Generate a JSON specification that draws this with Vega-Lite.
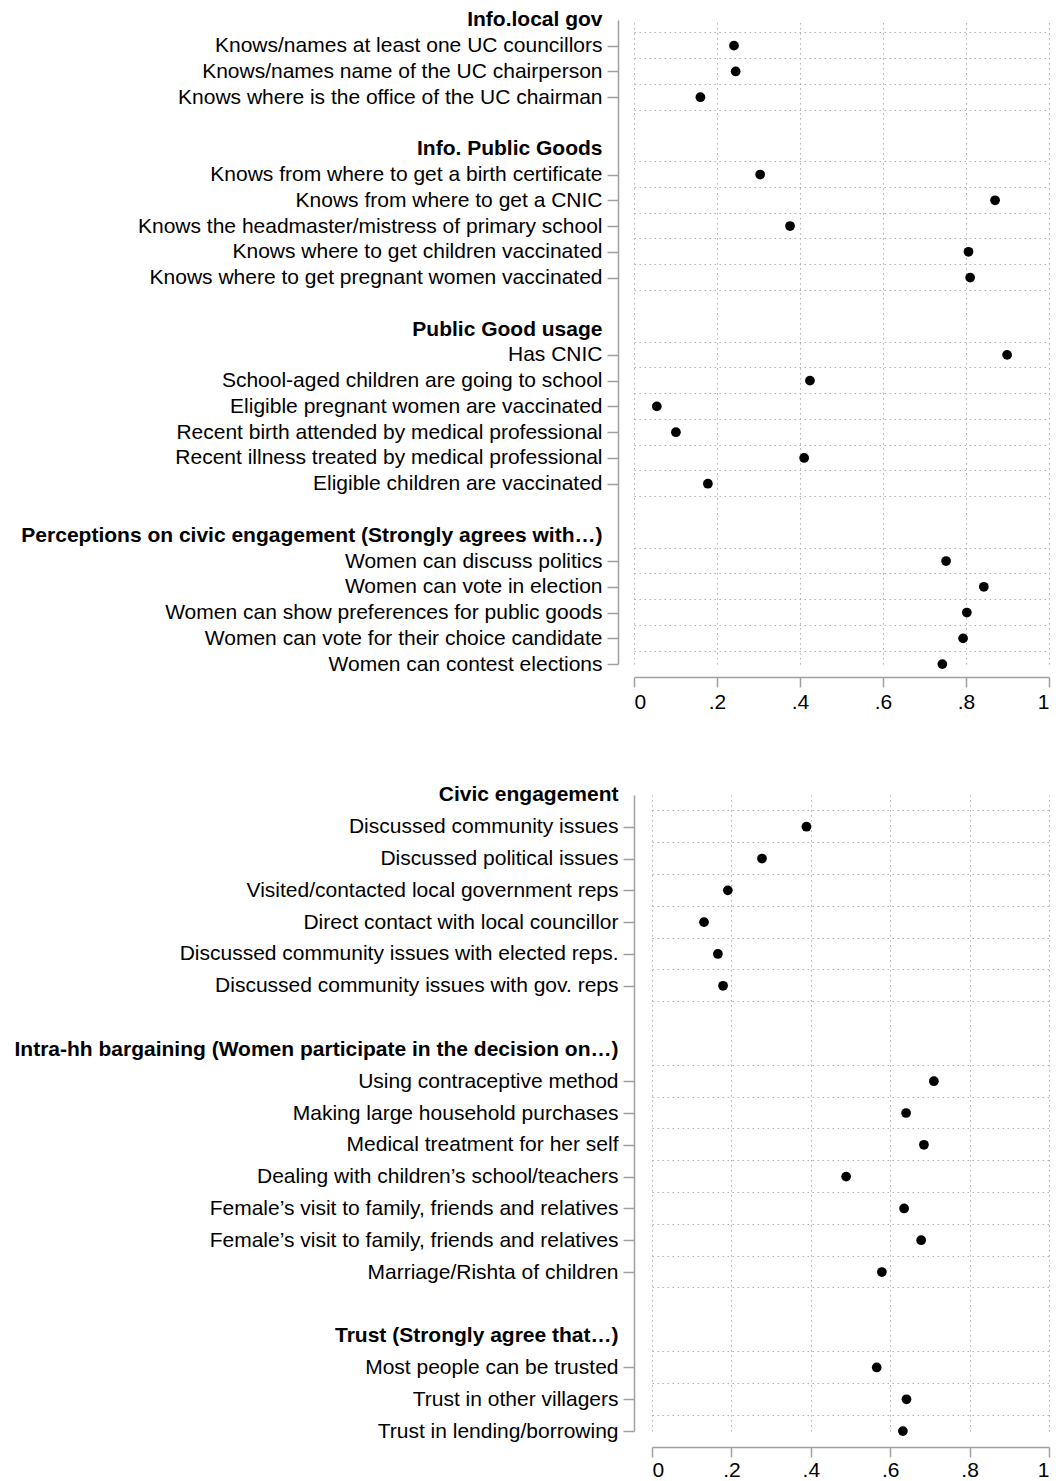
{
  "$schema": "https://vega.github.io/schema/vega-lite/v6.json",
  "padding": {"left": 0, "top": 7, "right": 0, "bottom": 0},
  "background": "white",
  "config": {
    "view": {"stroke": null},
    "font": "Liberation Sans",
    "axis": {"labelFont": "Liberation Sans", "labelColor": "black", "titleFont": "Liberation Sans"}
  },
  "datasets": {
    "top": [
      {"group": "Info.local gov", "label": "Knows/names at least one UC councillors", "value": 0.241},
      {"group": "Info.local gov", "label": "Knows/names name of the UC chairperson", "value": 0.245},
      {"group": "Info.local gov", "label": "Knows where is the office of the UC chairman", "value": 0.160},
      {"group": "Info. Public Goods", "label": "Knows from where to get a birth certificate", "value": 0.304},
      {"group": "Info. Public Goods", "label": "Knows from where to get a CNIC", "value": 0.870},
      {"group": "Info. Public Goods", "label": "Knows the headmaster/mistress of primary school", "value": 0.376},
      {"group": "Info. Public Goods", "label": "Knows where to get children vaccinated", "value": 0.806},
      {"group": "Info. Public Goods", "label": "Knows where to get pregnant women vaccinated", "value": 0.810},
      {"group": "Public Good usage", "label": "Has CNIC", "value": 0.899},
      {"group": "Public Good usage", "label": "School-aged children are going to school", "value": 0.424},
      {"group": "Public Good usage", "label": "Eligible pregnant women are vaccinated", "value": 0.055},
      {"group": "Public Good usage", "label": "Recent birth attended by medical professional", "value": 0.101},
      {"group": "Public Good usage", "label": "Recent illness treated by medical professional", "value": 0.410},
      {"group": "Public Good usage", "label": "Eligible children are vaccinated", "value": 0.178},
      {"group": "Perceptions on civic engagement (Strongly agrees with…)", "label": "Women can discuss politics", "value": 0.752},
      {"group": "Perceptions on civic engagement (Strongly agrees with…)", "label": "Women can vote in election", "value": 0.843},
      {"group": "Perceptions on civic engagement (Strongly agrees with…)", "label": "Women can show preferences for public goods", "value": 0.802},
      {"group": "Perceptions on civic engagement (Strongly agrees with…)", "label": "Women can vote for their choice candidate", "value": 0.793},
      {"group": "Perceptions on civic engagement (Strongly agrees with…)", "label": "Women can contest elections", "value": 0.743}
    ],
    "bottom": [
      {"group": "Civic engagement", "label": "Discussed community issues", "value": 0.389},
      {"group": "Civic engagement", "label": "Discussed political issues", "value": 0.277},
      {"group": "Civic engagement", "label": "Visited/contacted local government reps", "value": 0.191},
      {"group": "Civic engagement", "label": "Direct contact with local councillor", "value": 0.131},
      {"group": "Civic engagement", "label": "Discussed community issues with elected reps.\u00a0", "value": 0.166},
      {"group": "Civic engagement", "label": "Discussed community issues with gov. reps", "value": 0.179},
      {"group": "Intra-hh bargaining", "label": "Using contraceptive method", "value": 0.710},
      {"group": "Intra-hh bargaining", "label": "Making large household purchases\u00a0", "value": 0.640},
      {"group": "Intra-hh bargaining", "label": "Medical treatment for her self\u00a0", "value": 0.685},
      {"group": "Intra-hh bargaining", "label": "Dealing with children’s school/teachers", "value": 0.489},
      {"group": "Intra-hh bargaining", "label": "Female’s visit to family, friends and relatives", "value": 0.635},
      {"group": "Intra-hh bargaining", "label": "Female’s visit to family, friends and relatives\u00a0", "value": 0.678},
      {"group": "Intra-hh bargaining", "label": "Marriage/Rishta of children\u00a0", "value": 0.579},
      {"group": "Trust", "label": "Most people can be trusted", "value": 0.566},
      {"group": "Trust", "label": "Trust in other villagers", "value": 0.641},
      {"group": "Trust", "label": "Trust in lending/borrowing", "value": 0.632}
    ]
  },
  "columns": 1,
  "spacing": 67,
  "concat": [
    {
      "width": 428,
      "height": 670,
      "data": {"name": "top"},
      "layer": [
        {
          "mark": {"type": "point", "filled": true, "shape": "circle", "size": 95, "color": "black", "opacity": 1},
          "encoding": {
            "x": {
              "field": "value", "type": "quantitative",
              "scale": {"domain": [0, 1], "range": [0, 415]},
              "axis": {
                "title": null, "values": [0, 0.2, 0.4, 0.6, 0.8, 1],
                "labelExpr": "replace(format(datum.value, '.1~f'), '0.', '.')",
                "grid": true, "gridDash": [1.5, 3.5], "gridColor": "#b0b0b0", "gridWidth": 1,
                "domainColor": "#a0a0a0", "domainWidth": 1.5, "tickColor": "#a0a0a0", "tickWidth": 1.5,
                "tickSize": 10, "labelFontSize": 21, "labelPadding": 4, "offset": 0
              }
            },
            "y": {
              "field": "label", "type": "nominal", "sort": null,
              "scale": {
                "type": "point", "padding": 0, "range": [12.9, 657.1],
                "domain": [
                  "Info.local gov",
                  "Knows/names at least one UC councillors",
                  "Knows/names name of the UC chairperson",
                  "Knows where is the office of the UC chairman",
                  " ",
                  "Info. Public Goods",
                  "Knows from where to get a birth certificate",
                  "Knows from where to get a CNIC",
                  "Knows the headmaster/mistress of primary school",
                  "Knows where to get children vaccinated",
                  "Knows where to get pregnant women vaccinated",
                  "  ",
                  "Public Good usage",
                  "Has CNIC",
                  "School-aged children are going to school",
                  "Eligible pregnant women are vaccinated",
                  "Recent birth attended by medical professional",
                  "Recent illness treated by medical professional",
                  "Eligible children are vaccinated",
                  "   ",
                  "Perceptions on civic engagement (Strongly agrees with…)",
                  "Women can discuss politics",
                  "Women can vote in election",
                  "Women can show preferences for public goods",
                  "Women can vote for their choice candidate",
                  "Women can contest elections"
                ]
              },
              "axis": {
                "title": null, "grid": false, "offset": 16, "tickSize": 11, "labelPadding": 5,
                "labelFontSize": 21, "labelLimit": 1000, "labelOverlap": false, "minExtent": 618,
                "domainColor": "#a0a0a0", "domainWidth": 1.5, "tickColor": "#a0a0a0", "tickWidth": 1.5,
                "labelFontWeight": {"condition": {"test": "indexof(['Info.local gov','Info. Public Goods','Public Good usage','Perceptions on civic engagement (Strongly agrees with…)'], datum.value) >= 0", "value": "bold"}, "value": "normal"},
                "tickOpacity": {"condition": {"test": "indexof(['Info.local gov','Info. Public Goods','Public Good usage','Perceptions on civic engagement (Strongly agrees with…)'], datum.value) >= 0 || trim(datum.value) == ''", "value": 0}, "value": 1}
              }
            }
          }
        },
        {
          "mark": {"type": "point", "opacity": 0},
          "encoding": {
            "x": {"field": "value", "type": "quantitative"},
            "y": {
              "field": "label", "type": "nominal", "sort": null,
              "scale": {
                "type": "band", "paddingInner": 0, "paddingOuter": 0,
                "domain": [
                  "Info.local gov",
                  "Knows/names at least one UC councillors",
                  "Knows/names name of the UC chairperson",
                  "Knows where is the office of the UC chairman",
                  " ",
                  "Info. Public Goods",
                  "Knows from where to get a birth certificate",
                  "Knows from where to get a CNIC",
                  "Knows the headmaster/mistress of primary school",
                  "Knows where to get children vaccinated",
                  "Knows where to get pregnant women vaccinated",
                  "  ",
                  "Public Good usage",
                  "Has CNIC",
                  "School-aged children are going to school",
                  "Eligible pregnant women are vaccinated",
                  "Recent birth attended by medical professional",
                  "Recent illness treated by medical professional",
                  "Eligible children are vaccinated",
                  "   ",
                  "Perceptions on civic engagement (Strongly agrees with…)",
                  "Women can discuss politics",
                  "Women can vote in election",
                  "Women can show preferences for public goods",
                  "Women can vote for their choice candidate",
                  "Women can contest elections"
                ]
              },
              "axis": {
                "title": null, "orient": "left", "labels": false, "ticks": false, "domain": false,
                "grid": true, "bandPosition": 0, "minExtent": 0, "maxExtent": 0,
                "gridDash": [1.5, 3.5], "gridColor": "#b0b0b0", "gridWidth": 1,
                "gridOpacity": {"condition": {"test": "indexof(['Info.local gov','Info. Public Goods','Public Good usage','Perceptions on civic engagement (Strongly agrees with…)'], datum.value) >= 0", "value": 0}, "value": 1}
              }
            }
          }
        }
      ],
      "resolve": {"scale": {"y": "independent"}, "axis": {"y": "independent"}}
    },
    {
      "width": 428,
      "height": 668,
      "data": {"name": "bottom"},
      "layer": [
        {
          "mark": {"type": "point", "filled": true, "shape": "circle", "size": 95, "color": "black", "opacity": 1},
          "encoding": {
            "x": {
              "field": "value", "type": "quantitative",
              "scale": {"domain": [0, 1], "range": [18, 415]},
              "axis": {
                "title": null, "values": [0, 0.2, 0.4, 0.6, 0.8, 1],
                "labelExpr": "replace(format(datum.value, '.1~f'), '0.', '.')",
                "grid": true, "gridDash": [1.5, 3.5], "gridColor": "#b0b0b0", "gridWidth": 1,
                "domainColor": "#a0a0a0", "domainWidth": 1.5, "tickColor": "#a0a0a0", "tickWidth": 1.5,
                "tickSize": 10, "labelFontSize": 21, "labelPadding": 2, "offset": 0
              }
            },
            "y": {
              "field": "label", "type": "nominal", "sort": null,
              "scale": {
                "type": "point", "padding": 0, "range": [15.9, 652.1],
                "domain": [
                  "Civic engagement",
                  "Discussed community issues",
                  "Discussed political issues",
                  "Visited/contacted local government reps",
                  "Direct contact with local councillor",
                  "Discussed community issues with elected reps.\u00a0",
                  "Discussed community issues with gov. reps",
                  " ",
                  "Intra-hh bargaining (Women participate in the decision on…)",
                  "Using contraceptive method",
                  "Making large household purchases\u00a0",
                  "Medical treatment for her self\u00a0",
                  "Dealing with children’s school/teachers",
                  "Female’s visit to family, friends and relatives",
                  "Female’s visit to family, friends and relatives\u00a0",
                  "Marriage/Rishta of children\u00a0",
                  "  ",
                  "Trust (Strongly agree that…)",
                  "Most people can be trusted",
                  "Trust in other villagers",
                  "Trust in lending/borrowing"
                ]
              },
              "axis": {
                "title": null, "grid": false, "offset": 0, "tickSize": 11, "labelPadding": 5,
                "labelFontSize": 21, "labelLimit": 1000, "labelOverlap": false, "minExtent": 634,
                "domainColor": "#a0a0a0", "domainWidth": 1.5, "tickColor": "#a0a0a0", "tickWidth": 1.5,
                "labelFontWeight": {"condition": {"test": "indexof(['Civic engagement','Intra-hh bargaining (Women participate in the decision on…)','Trust (Strongly agree that…)'], datum.value) >= 0", "value": "bold"}, "value": "normal"},
                "tickOpacity": {"condition": {"test": "indexof(['Civic engagement','Intra-hh bargaining (Women participate in the decision on…)','Trust (Strongly agree that…)'], datum.value) >= 0 || trim(datum.value) == ''", "value": 0}, "value": 1}
              }
            }
          }
        },
        {
          "mark": {"type": "point", "opacity": 0},
          "encoding": {
            "x": {"field": "value", "type": "quantitative"},
            "y": {
              "field": "label", "type": "nominal", "sort": null,
              "scale": {
                "type": "band", "paddingInner": 0, "paddingOuter": 0,
                "domain": [
                  "Civic engagement",
                  "Discussed community issues",
                  "Discussed political issues",
                  "Visited/contacted local government reps",
                  "Direct contact with local councillor",
                  "Discussed community issues with elected reps.\u00a0",
                  "Discussed community issues with gov. reps",
                  " ",
                  "Intra-hh bargaining (Women participate in the decision on…)",
                  "Using contraceptive method",
                  "Making large household purchases\u00a0",
                  "Medical treatment for her self\u00a0",
                  "Dealing with children’s school/teachers",
                  "Female’s visit to family, friends and relatives",
                  "Female’s visit to family, friends and relatives\u00a0",
                  "Marriage/Rishta of children\u00a0",
                  "  ",
                  "Trust (Strongly agree that…)",
                  "Most people can be trusted",
                  "Trust in other villagers",
                  "Trust in lending/borrowing"
                ]
              },
              "axis": {
                "title": null, "orient": "left", "labels": false, "ticks": false, "domain": false,
                "grid": true, "bandPosition": 0, "minExtent": 0, "maxExtent": 0,
                "gridDash": [1.5, 3.5], "gridColor": "#b0b0b0", "gridWidth": 1,
                "gridOpacity": {"condition": {"test": "indexof(['Civic engagement','Intra-hh bargaining (Women participate in the decision on…)','Trust (Strongly agree that…)'], datum.value) >= 0", "value": 0}, "value": 1}
              }
            }
          }
        }
      ],
      "resolve": {"scale": {"y": "independent"}, "axis": {"y": "independent"}}
    }
  ]
}
